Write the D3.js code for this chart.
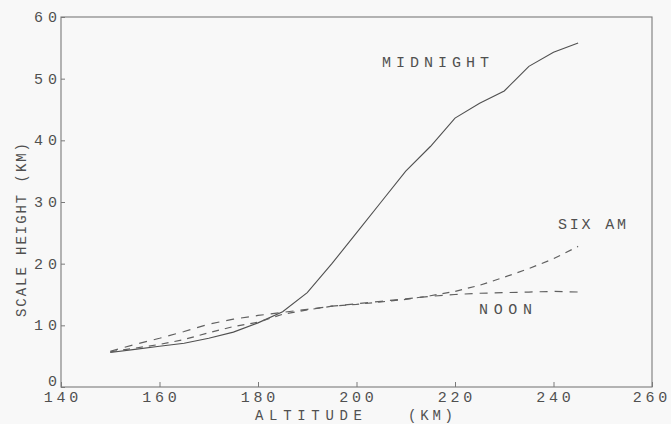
<!DOCTYPE html>
<html>
<head>
<meta charset="utf-8">
<script src="https://cdn.jsdelivr.net/npm/d3@7/dist/d3.min.js"></script>
<style>
html,body{margin:0;padding:0;background:#f8f8f8;}
svg{display:block;}
text{font-family:"Liberation Mono",monospace;fill:#505050;}
</style>
</head>
<body>
<script>
const altitudes = [150,155,160,165,170,175,180,185,190,195,200,205,210,215,220,225,230,235,240,245];
const midnight = [5.6,6.1,6.6,7.1,7.9,8.9,10.4,12.2,15.3,20.0,25.0,30.0,35.0,39.0,43.6,46.0,48.0,52.0,54.3,55.8];
const sixAm    = [5.7,6.3,6.9,7.7,8.8,9.8,10.5,11.8,12.5,13.1,13.4,13.8,14.2,14.8,15.5,16.5,17.8,19.2,20.8,22.8];
const noon     = [5.8,6.9,7.9,9.0,10.2,11.0,11.6,12.1,12.6,13.1,13.5,13.9,14.3,14.7,15.0,15.2,15.3,15.4,15.5,15.4];
const xTicks = [140,160,180,200,220,240,260];
const yTicks = [0,10,20,30,40,50,60];
const seriesLabels = ["MIDNIGHT","SIX AM","NOON"];
const xTitle = ["ALTITUDE","(KM)"];
const yTitle = "SCALE HEIGHT  (KM)";

const W = 671, H = 424;
const L = 61, R = 652, T = 17, B = 387;
const svg = d3.select("body").append("svg").attr("width", W).attr("height", H);
const x = d3.scaleLinear().domain([140,260]).range([L,R]);
const y = d3.scaleLinear().domain([0,60]).range([B,T]);

// frame
svg.append("rect").attr("x",L).attr("y",T).attr("width",R-L).attr("height",B-T)
  .attr("fill","none").attr("stroke","#7a7a7a").attr("stroke-width",1.1);

// axes with inward ticks
const xAxis = d3.axisBottom(x).tickValues(xTicks).tickSize(-5).tickFormat("");
const gx = svg.append("g").attr("transform",`translate(0,${B})`).call(xAxis);
gx.select(".domain").remove();
gx.selectAll("line").attr("stroke","#7a7a7a");
const yAxis = d3.axisLeft(y).tickValues(yTicks).tickSize(-4).tickFormat("");
const gy = svg.append("g").attr("transform",`translate(${L},0)`).call(yAxis);
gy.select(".domain").remove();
gy.selectAll("line").attr("stroke","#7a7a7a");

// tick labels
svg.append("g").selectAll("text").data(xTicks).join("text")
  .attr("x",d=>x(d) - (d===260?2:0)).attr("y",402).attr("text-anchor","middle")
  .attr("textLength",d=>String(d).length*11.5).attr("lengthAdjust","spacing")
  .style("font-size","15px").text(d=>d);
svg.append("g").selectAll("text").data(yTicks).join("text")
  .attr("x",L-4).attr("y",d=>y(d)+(d===0?-1:5)).attr("text-anchor","end")
  .attr("textLength",d=>String(d).length*12-1).attr("lengthAdjust","spacing")
  .style("font-size","15px").text(d=>d);

// axis titles
svg.append("text").attr("x",255).attr("y",420).attr("textLength",107).attr("lengthAdjust","spacing")
  .style("font-size","14px").text(xTitle[0]);
svg.append("text").attr("x",408).attr("y",420).attr("textLength",45).attr("lengthAdjust","spacing")
  .style("font-size","14px").text(xTitle[1]);
svg.append("text").attr("transform","translate(26,230) rotate(-90)").attr("text-anchor","middle")
  .attr("textLength",174).attr("lengthAdjust","spacing")
  .style("font-size","14px").text(yTitle);

// lines
const line = d3.line().x((d,i)=>x(altitudes[i])).y(d=>y(d));
svg.append("path").datum(midnight).attr("d",line).attr("fill","none")
  .attr("stroke","#505050").attr("stroke-width",1.1);
svg.append("path").datum(sixAm).attr("d",line).attr("fill","none")
  .attr("stroke","#606060").attr("stroke-width",1.2).attr("stroke-dasharray","7,6");
svg.append("path").datum(noon).attr("d",line).attr("fill","none")
  .attr("stroke","#606060").attr("stroke-width",1.2).attr("stroke-dasharray","8,7");

// series labels
svg.append("text").attr("x",382).attr("y",67).attr("textLength",107).attr("lengthAdjust","spacing")
  .style("font-size","15px").text(seriesLabels[0]);
svg.append("text").attr("x",558).attr("y",229).attr("textLength",68).attr("lengthAdjust","spacing")
  .style("font-size","15px").text(seriesLabels[1]);
svg.append("text").attr("x",479).attr("y",314).attr("textLength",53).attr("lengthAdjust","spacing")
  .style("font-size","15px").text(seriesLabels[2]);
</script>
</body>
</html>
